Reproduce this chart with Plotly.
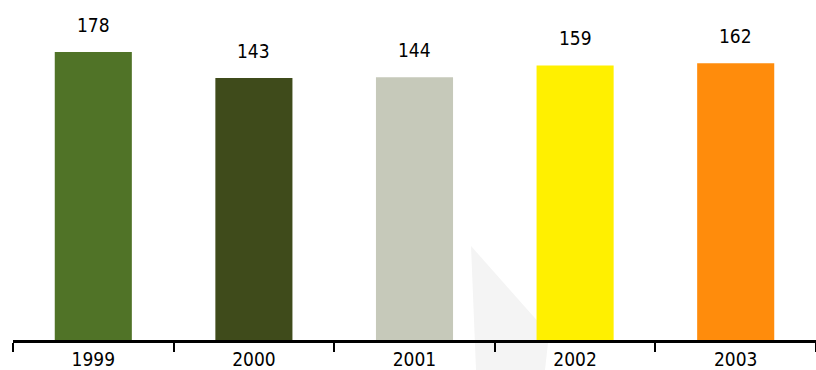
import numpy as np
import plotly.graph_objects as go

years = ["1999", "2000", "2001", "2002", "2003"]
values = [178, 143, 144, 159, 162]
colors = ["#507327", "#3F4B1B", "#C6C9BA", "#FFF000", "#FF8C0C"]

FONT = "DejaVu Sans Condensed, DejaVu Sans, sans-serif"

fig = go.Figure()
fig.add_trace(go.Bar(
    x=years, y=values, marker=dict(color=colors, line=dict(width=0)),
    textposition="none",
    hoverinfo="skip", showlegend=False,
))

for i, v in enumerate(values):
    fig.add_annotation(
        x=i, y=float(np.log10(v)), xref="x", yref="y", text=str(v), showarrow=False,
        yanchor="middle", yshift=27,
        font=dict(family=FONT, size=19, color="#000000"),
    )

# faint watermark (cursor-like shape) in the background
def px(x, y):
    return (x - 13) / 803, (340 - y) / 340

pts = [px(471, 246), px(549, 334), px(545, 370), px(476, 370)]
path = "M " + " L ".join(f"{a:.4f},{b:.4f}" for a, b in pts) + " Z"
fig.add_shape(type="path", path=path, xref="paper", yref="paper",
              fillcolor="#F4F4F4", line=dict(width=0), layer="below")

fig.update_layout(
    width=816, height=370,
    margin=dict(l=13, r=0, t=0, b=30),
    paper_bgcolor="white", plot_bgcolor="rgba(0,0,0,0)",
    bargap=0.52,
    xaxis=dict(
        type="category", range=[-0.5, len(years) - 0.5],
        categoryorder="array", categoryarray=years,
        showline=True, linewidth=3, linecolor="black",
        ticks="outside", tickson="boundaries", ticklen=9, tickwidth=2,
        tickcolor="black", showgrid=False, zeroline=False,
        tickfont=dict(family=FONT, size=19, color="black"),
    ),
    yaxis=dict(
        type="log", range=[1.197, 2.4406], visible=False,
        showgrid=False, zeroline=False,
    ),
)

fig.write_html("out.html")
